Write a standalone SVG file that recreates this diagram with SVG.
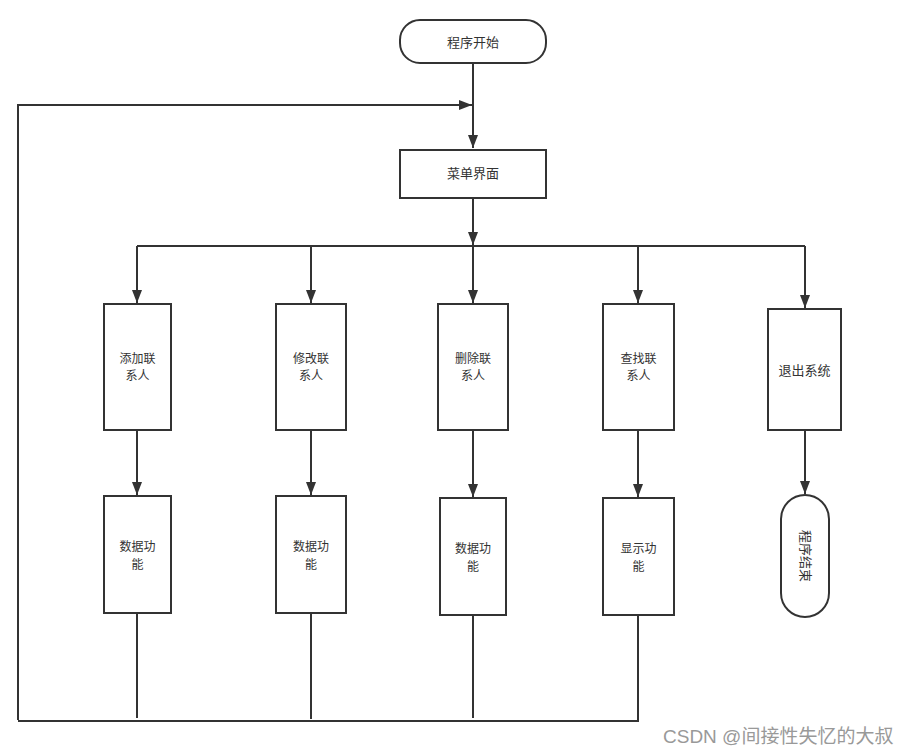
<svg xmlns="http://www.w3.org/2000/svg" width="909" height="754" viewBox="0 0 909 754">
<defs>
<marker id="arr" markerUnits="userSpaceOnUse" markerWidth="14" markerHeight="10" refX="13" refY="5" orient="auto" viewBox="0 0 14 10">
<path d="M0,0 L13,5 L0,10 z" fill="#333"/>
</marker>
<style>
.n{fill:#fff;stroke:#333;stroke-width:2}
.t{font-family:"Noto Sans CJK SC","Liberation Sans",sans-serif;font-size:13px;fill:#333;text-anchor:middle}
.t2{font-size:12px}
.c{fill:none;stroke:#333;stroke-width:2}
.a{marker-end:url(#arr)}
.w{font-family:"Liberation Sans","Noto Sans CJK SC",sans-serif;font-size:19px;fill:#999}
</style>
</defs>
<rect width="909" height="754" fill="#fff"/>
<g id="connectors">
<path class="c a" d="M473,63 V148"/>
<path class="c a" d="M18,720 V105 H472"/>
<path class="c a" d="M473,198 V245"/>
<path class="c" d="M137,246 H805"/>
<path class="c a" d="M137,246 V303"/>
<path class="c a" d="M311,246 V303"/>
<path class="c a" d="M473,246 V303"/>
<path class="c a" d="M638,246 V303"/>
<path class="c a" d="M805,246 V308"/>
<path class="c a" d="M137,430 V495"/>
<path class="c a" d="M311,430 V495"/>
<path class="c a" d="M473,430 V497"/>
<path class="c a" d="M638,430 V497"/>
<path class="c a" d="M805,430 V494"/>
<path class="c" d="M137,613 V718"/>
<path class="c" d="M311,613 V719"/>
<path class="c" d="M473,615 V718"/>
<path class="c" d="M638,615 V721 H18"/>
</g>
<g id="start">
<rect class="n" x="400" y="20" width="146" height="43" rx="20"/>
<text class="t" x="473" y="47">程序开始</text>
</g>
<g id="menu">
<rect class="n" x="400" y="150" width="146" height="48"/>
<text class="t" x="473" y="178">菜单界面</text>
</g>
<g id="add">
<rect class="n" x="104" y="304" width="67" height="126"/>
<text class="t t2" x="137.5" y="362.5">添加联</text>
<text class="t t2" x="137.5" y="380">系人</text>
</g>
<g id="modify">
<rect class="n" x="276" y="304" width="70" height="126"/>
<text class="t t2" x="311" y="362.5">修改联</text>
<text class="t t2" x="311" y="380">系人</text>
</g>
<g id="delete">
<rect class="n" x="438" y="304" width="70" height="126"/>
<text class="t t2" x="473" y="362.5">删除联</text>
<text class="t t2" x="473" y="380">系人</text>
</g>
<g id="find">
<rect class="n" x="603" y="304" width="71" height="126"/>
<text class="t t2" x="638.5" y="362.5">查找联</text>
<text class="t t2" x="638.5" y="380">系人</text>
</g>
<g id="exit">
<rect class="n" x="768" y="309" width="73" height="121"/>
<text class="t" x="804.5" y="375">退出系统</text>
</g>
<g id="data1">
<rect class="n" x="104" y="496" width="67" height="117"/>
<text class="t t2" x="137.5" y="551">数据功</text>
<text class="t t2" x="137.5" y="568.5">能</text>
</g>
<g id="data2">
<rect class="n" x="276" y="496" width="70" height="117"/>
<text class="t t2" x="311" y="551">数据功</text>
<text class="t t2" x="311" y="568.5">能</text>
</g>
<g id="data3">
<rect class="n" x="440" y="498" width="66" height="117"/>
<text class="t t2" x="473" y="553">数据功</text>
<text class="t t2" x="473" y="570.5">能</text>
</g>
<g id="show">
<rect class="n" x="603" y="498" width="71" height="117"/>
<text class="t t2" x="638.5" y="553">显示功</text>
<text class="t t2" x="638.5" y="570.5">能</text>
</g>
<g id="end">
<rect class="n" x="781" y="495" width="48" height="122" rx="24"/>
<text class="t" x="805" y="556" transform="rotate(90 805 556)" dy="4.5">程序结束</text>
</g>
<text class="w" x="663" y="743">CSDN @间接性失忆的大叔</text>
</svg>
